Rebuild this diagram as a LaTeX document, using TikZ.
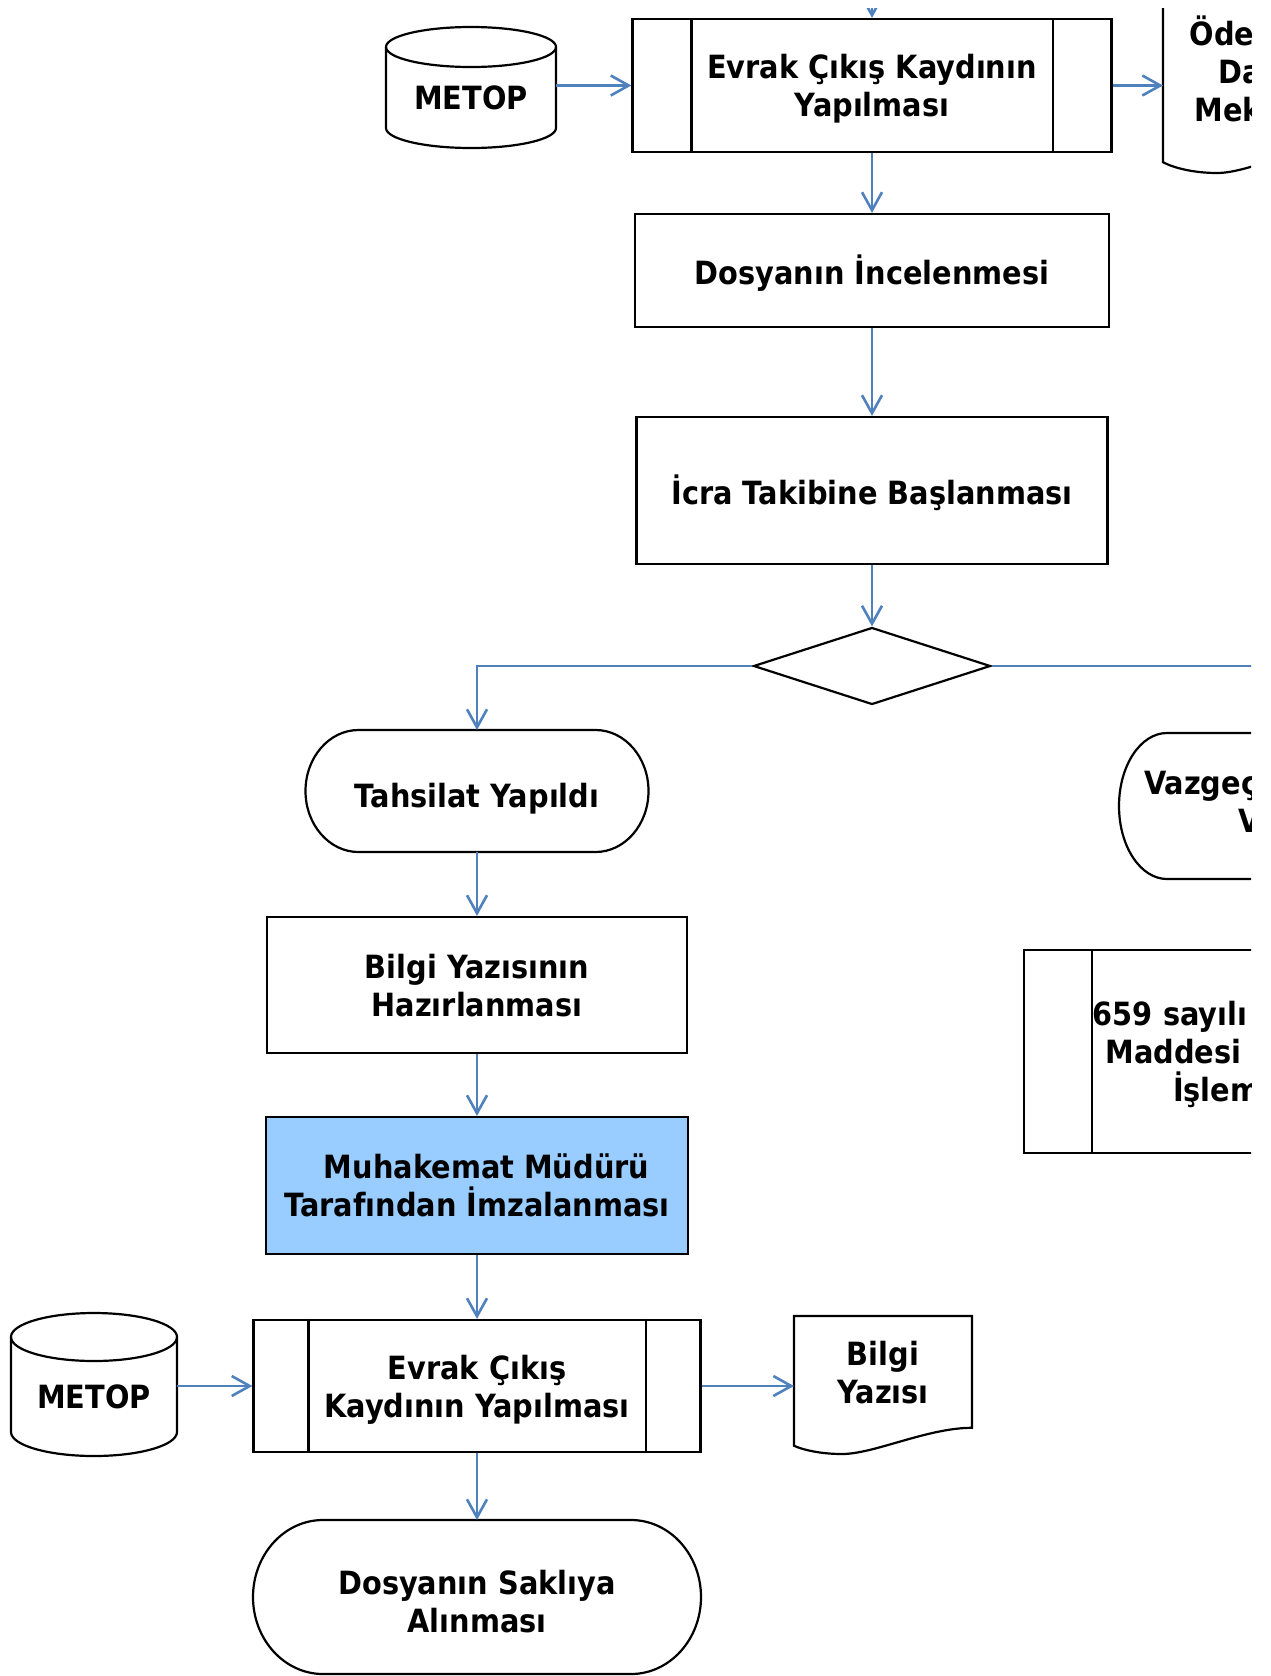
\documentclass[tikz,border=0pt]{standalone}
\usepackage{fontspec}
\setmainfont{DejaVu Sans}[FakeStretch=0.9]
\usepackage{tikz}
\usetikzlibrary{calc}
\usetikzlibrary{arrows.meta,shapes}
\usetikzlibrary{positioning}
\definecolor{flowblue}{RGB}{79,129,189}
\definecolor{signblue}{RGB}{153,204,255}
\tikzstyle{box}=[draw=black,line width=1.1pt,inner sep=2pt,align=center,text depth=0pt]
\tikzstyle{proc}=[box,rectangle]
\tikzstyle{term}=[rectangle,inner sep=0pt,outer sep=0pt,align=center,text depth=0pt]
\tikzstyle{decision}=[box,diamond,inner sep=0pt]
\tikzstyle{db}=[rectangle,inner sep=0pt,outer sep=0pt,align=center]
\tikzstyle{doc}=[rectangle,inner sep=0pt,outer sep=0pt,align=center]
\tikzstyle{shapeline}=[draw=black,line width=1.1pt]
\tikzstyle{flow}=[draw=flowblue,line width=1.3pt,-{Straight Barb[length=9pt,width=10pt]}]

\begin{document}
\begin{tikzpicture}[x=0.5pt,y=-0.5pt,
  every node/.style={font=\bfseries\fontsize{16}{19}\selectfont}]
\useasboundingbox (0,0) rectangle (1270,1676);
\clip (0,8) rectangle (1251,1676);
% upper column
\coordinate (from) at (872,-30);
\node[proc,minimum width=239.5pt,minimum height=66.5pt,text depth=-0.5pt] (evrak1) at (872,85.5) {Evrak Çıkış Kaydının\\Yapılması};
\node[db,minimum width=85pt,minimum height=50.5pt] (metop1) at (471,97.5) {METOP};
\node[doc,minimum width=103pt] (odeme) at (1266,68.5) {Ödemeye\\Davet\\Mektubu};
\node[proc,minimum width=237pt,minimum height=56.5pt,text depth=0.6pt] (incele) at (872,270.5) {Dosyanın İncelenmesi};
\node[proc,minimum width=235.5pt,minimum height=73.5pt,text depth=1.3pt] (icra) at (872,490.5) {İcra Takibine Başlanması};
\node[decision,minimum width=118.5pt,minimum height=38.5pt] (karar) at (872,666) {};
% left branch
\node[term,minimum width=171.5pt,minimum height=61pt,text height=16.5pt] (tahsilat) at (477,791) {Tahsilat Yapıldı};
\node[proc,minimum width=210pt,minimum height=68pt] (bilgiyaz) at (477,985) {Bilgi Yazısının\\Hazırlanması};
\node[proc,fill=signblue,minimum width=211pt,minimum height=68.5pt] (imza) at (477,1185.5) {\hspace*{9.6pt}Muhakemat Müdürü\\Tarafından İmzalanması};
\node[proc,minimum width=223.5pt,minimum height=66pt,text depth=-1pt] (evrak2) at (477,1386) {Evrak Çıkış\\Kaydının Yapılması};
\node[db,minimum width=83pt,minimum height=59.5pt] (metop2) at (94,1396.5) {METOP};
\node[doc,minimum width=89pt] (bilgi) at (883,1372.5) {Bilgi\\Yazısı};
\node[term,minimum width=224pt,minimum height=77pt,text height=35.5pt] (sakli) at (477,1597) {Dosyanın Saklıya\\Alınması};
% right branch
\node[term,minimum width=171.5pt,minimum height=73pt,text depth=4.8pt] (vazgec) at (1290.5,806) {Vazgeçilme Kararı\\Verildi};
\node[proc,minimum width=275pt,minimum height=101.5pt] (islem) at (1299,1051.5) {659 sayılı KHK'nın 11 inci\\Maddesi Doğrultusunda\\İşlem Yapılması};

% side bars of the subprocess boxes
\foreach \n/\o in {evrak1/30pt,evrak2/28pt,islem/34.5pt}{
  \draw[shapeline] ([xshift=\o]\n.north west) -- ([xshift=\o]\n.south west);
  \draw[shapeline] ([xshift=-\o]\n.north east) -- ([xshift=-\o]\n.south east);
}
% terminals with oval ends
\foreach \n/\rx/\ry in {tahsilat/26.5pt/30.5pt,vazgec/24pt/36.5pt,sakli/35pt/38.5pt}{
  \draw[shapeline] ([xshift=\rx]\n.north west) -- ([xshift=-\rx]\n.north east)
    arc [start angle=90,end angle=-90,x radius=\rx,y radius=\ry]
    -- ([xshift=\rx]\n.south west)
    arc [start angle=270,end angle=90,x radius=\rx,y radius=\ry] -- cycle;
}
% databases
\foreach \n/\r/\e in {metop1/42.5pt/10pt,metop2/41.5pt/12pt}{
  \draw[shapeline] (\n.north) ellipse [x radius=\r,y radius=\e];
  \draw[shapeline] (\n.north west) -- ([yshift=\e]\n.south west)
    arc [start angle=180,end angle=360,x radius=\r,y radius=\e] -- (\n.north east);
}
% documents
\foreach \n/\w/\h/\t in {odeme/200/180/75.5,bilgi/178/138/56.5}{
  \begin{scope}[shift={(\n.west)}]
  \draw[shapeline] (0,-\t) -- (\w,-\t) -- (\w,{-\t+0.81*\h})
    .. controls ({0.75*\w},{-\t+0.81*\h}) and ({0.45*\w},{-\t+\h}) .. ({0.27*\w},{-\t+\h})
    .. controls ({0.15*\w},{-\t+\h}) and ({0.05*\w},{-\t+0.97*\h}) .. (0,{-\t+0.94*\h}) -- cycle;
  \end{scope}
}

% connectors
\draw[flow] (from) -- (evrak1.north);
\draw[flow] (metop1.east |- evrak1.west) -- (evrak1.west);
\draw[flow] (evrak1.east) -- (evrak1.east -| odeme.west);
\draw[flow] (evrak1) -- (incele);
\draw[flow] (incele) -- (icra);
\draw[flow] (icra) -- (karar);
\draw[flow] (karar.west) -| (tahsilat.north);
\draw[flow] (karar.east) -| (vazgec.north);
\draw[flow] (tahsilat) -- (bilgiyaz);
\draw[flow] (bilgiyaz) -- (imza);
\draw[flow] (imza) -- (evrak2);
\draw[flow] (metop2.east |- evrak2.west) -- (evrak2.west);
\draw[flow] (evrak2.east) -- (evrak2.east -| bilgi.west);
\draw[flow] (evrak2) -- (sakli);
\end{tikzpicture}
\end{document}
